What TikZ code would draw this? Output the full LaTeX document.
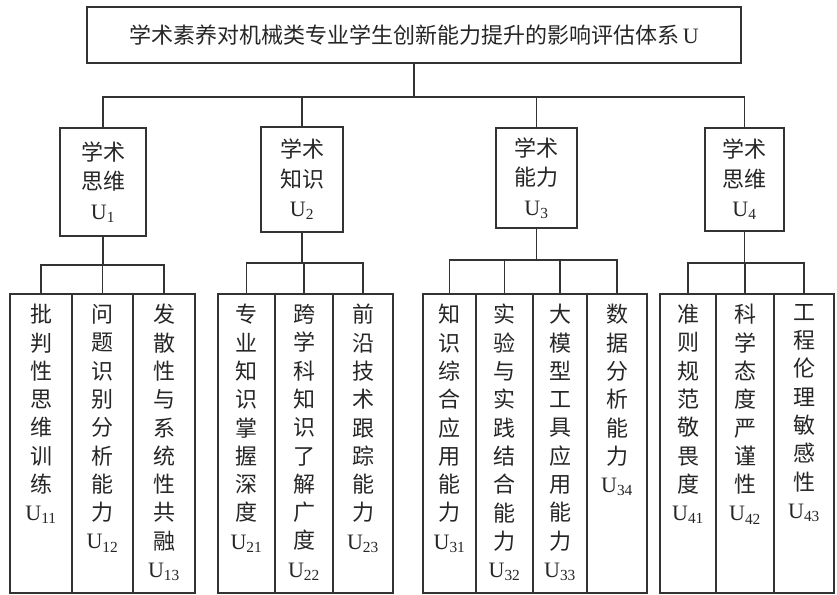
\documentclass[tikz,border=0pt]{standalone}
\usepackage{fontspec}
\setmainfont{Noto Sans CJK SC}
\newfontfamily\latinU{Liberation Serif}
\newcommand\Usub[1]{{\latinU U\textsubscript{#1}}}
\begin{document}
\begin{tikzpicture}[x=1pt,y=-1pt,
  box/.style={draw=black!80, line width=1.8pt, inner sep=0pt, fill=white},
  wire/.style={draw=black!80, line width=1.8pt},
  ttl/.style={font=\fontsize{22}{26}\selectfont, text=black!85},
  mid/.style={font=\fontsize{22}{29.5}\selectfont, align=center, text=black!85},
  vtxt/.style={font=\fontsize{22}{28.3}\selectfont, align=center, text=black!85, inner sep=0pt, anchor=north}]
\useasboundingbox (0,0) rectangle (837,594);
% top
\node[box, ttl, minimum width=654pt, minimum height=56pt] (top) at (414,35) {学术素养对机械类专业学生创新能力提升的影响评估体系{\latinU\,U}};
% level 2
\node[box, mid, minimum width=86pt, minimum height=108pt] (b1) at (103,182) {学术\\思维\\\Usub{1}};
\node[box, mid, minimum width=82pt, minimum height=105pt] (b2) at (302,179.5) {学术\\知识\\\Usub{2}};
\node[box, mid, minimum width=81pt, minimum height=100pt] (b3) at (536.5,178) {学术\\能力\\\Usub{3}};
\node[box, mid, minimum width=79pt, minimum height=103pt] (b4) at (744.5,179.5) {学术\\思维\\\Usub{4}};
% level 3 boxes
\tikzset{leaf/.style={box, minimum height=299pt, minimum width=#1}}
\node[leaf=62pt] (c11) at (41,443.5) {};
\node[leaf=61pt] (c12) at (102.5,443.5) {};
\node[leaf=62pt] (c13) at (164,443.5) {};
\node[leaf=57pt] (c21) at (246.5,443.5) {};
\node[leaf=58pt] (c22) at (304,443.5) {};
\node[leaf=60pt] (c23) at (363,443.5) {};
\node[leaf=53pt] (c31) at (449.5,443.5) {};
\node[leaf=57pt] (c32) at (504.5,443.5) {};
\node[leaf=54pt] (c33) at (560,443.5) {};
\node[leaf=60pt] (c34) at (617,443.5) {};
\node[leaf=56pt] (c41) at (688,443.5) {};
\node[leaf=58pt] (c42) at (745,443.5) {};
\node[leaf=60pt] (c43) at (804,443.5) {};
% level 3 texts
\path (c11.north) ++(0,11) node[vtxt] (t11) {批\\判\\性\\思\\维\\训\\练\\\Usub{11}};
\path (c12.north) ++(0,11) node[vtxt] (t12) {问\\题\\识\\别\\分\\析\\能\\力\\\Usub{12}};
\path (c13.north) ++(0,11) node[vtxt] (t13) {发\\散\\性\\与\\系\\统\\性\\共\\融\\\Usub{13}};
\path (c21.north) ++(0,11) node[vtxt] (t21) {专\\业\\知\\识\\掌\\握\\深\\度\\\Usub{21}};
\path (c22.north) ++(0,11) node[vtxt] (t22) {跨\\学\\科\\知\\识\\了\\解\\广\\度\\\Usub{22}};
\path (c23.north) ++(0,11) node[vtxt] (t23) {前\\沿\\技\\术\\跟\\踪\\能\\力\\\Usub{23}};
\path (c31.north) ++(0,11) node[vtxt] (t31) {知\\识\\综\\合\\应\\用\\能\\力\\\Usub{31}};
\path (c32.north) ++(0,11) node[vtxt] (t32) {实\\验\\与\\实\\践\\结\\合\\能\\力\\\Usub{32}};
\path (c33.north) ++(0,11) node[vtxt] (t33) {大\\模\\型\\工\\具\\应\\用\\能\\力\\\Usub{33}};
\path (c34.north) ++(0,11) node[vtxt] (t34) {数\\据\\分\\析\\能\\力\\\Usub{34}};
\path (c41.north) ++(0,11) node[vtxt] (t41) {准\\则\\规\\范\\敬\\畏\\度\\\Usub{41}};
\path (c42.north) ++(0,11) node[vtxt] (t42) {科\\学\\态\\度\\严\\谨\\性\\\Usub{42}};
\path (c43.north) ++(0,11) node[vtxt] (t43) {工\\程\\伦\\理\\敏\\感\\性\\\Usub{43}};
% connectors level 1 -> 2
\coordinate (j0) at (414,97);
\draw[wire] (top.south) -- (j0);
\draw[wire] (b1.north) |- (b4.north |- j0) -- (b4.north);
\draw[wire] (b2.north) -- (b2.north |- j0);
\draw[wire] (b3.north) -- (b3.north |- j0);
% connectors level 2 -> 3
\coordinate (j1) at (0,265);
\draw[wire] (b1.south) -- (b1.south |- j1);
\draw[wire] (c11.north) |- (c13.north |- j1) -- (c13.north);
\draw[wire] (c12.north) -- (c12.north |- j1);
\coordinate (j2) at (0,263);
\draw[wire] (b2.south) -- (b2.south |- j2);
\draw[wire] (c21.north) |- (c23.north |- j2) -- (c23.north);
\draw[wire] (c22.north) -- (c22.north |- j2);
\coordinate (j3) at (0,260);
\draw[wire] (b3.south) -- (b3.south |- j3);
\draw[wire] (c31.north) |- (c34.north |- j3) -- (c34.north);
\draw[wire] (c32.north) -- (c32.north |- j3);
\draw[wire] (c33.north) -- (c33.north |- j3);
\coordinate (j4) at (0,263);
\draw[wire] (b4.south) -- (b4.south |- j4);
\draw[wire] (c41.north) |- (c43.north |- j4) -- (c43.north);
\draw[wire] (c42.north) -- (c42.north |- j4);
\end{tikzpicture}
\end{document}
